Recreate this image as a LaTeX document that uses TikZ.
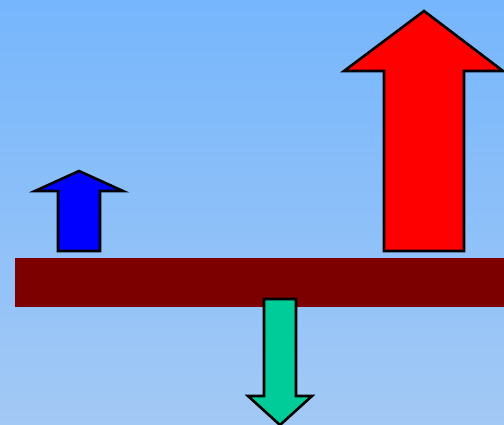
\documentclass[tikz,border=0pt]{standalone}
\usepackage{tikz}

\definecolor{skytop}{RGB}{118,182,252}
\definecolor{skybot}{RGB}{163,201,245}
\definecolor{barred}{RGB}{124,0,0}
\definecolor{upblue}{RGB}{0,0,255}
\definecolor{upred}{RGB}{255,0,0}
\definecolor{downgreen}{RGB}{0,204,153}

\begin{document}
\begin{tikzpicture}[x=1pt,y=-1pt,
  arrowshape/.style={draw=black,line width=2.6pt,line join=miter}]
\useasboundingbox (0,0) rectangle (504,425);
\shade[top color=skytop,bottom color=skybot] (0,0) rectangle (504,425);

\fill[barred] (15,258) rectangle (504,307);

\draw[arrowshape,fill=upblue] (58,251) -- (58,191) -- (35,191) -- (79,171)
  -- (123,191) -- (100,191) -- (100,251) -- cycle;

\draw[arrowshape,fill=upred] (384,251) -- (384,71) -- (344,71) -- (424,11)
  -- (503,71) -- (464,71) -- (464,251) -- cycle;

\draw[arrowshape,fill=downgreen] (264,299) -- (264,396) -- (248,396) -- (280,425)
  -- (312,396) -- (296,396) -- (296,299) -- cycle;
\end{tikzpicture}
\end{document}
